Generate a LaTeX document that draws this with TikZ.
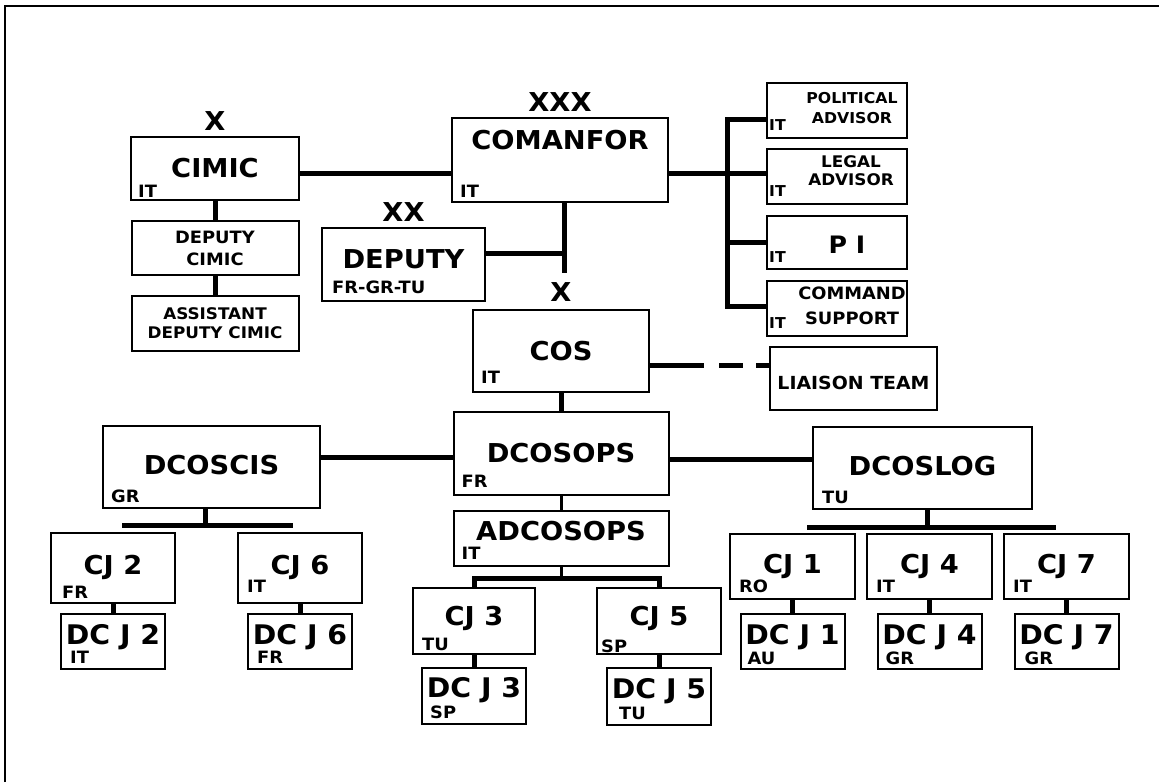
\documentclass[tikz,border=0pt]{standalone}
\usepackage{fontspec}
\setmainfont{DejaVu Sans}[FakeStretch=1.05]
\usetikzlibrary{positioning}

\begin{document}
\begin{tikzpicture}[x=1pt,y=-1pt,
	unit/.style={draw,line width=2pt,inner sep=0pt,
		font=\bfseries\fontsize{26}{30}\selectfont},
	staff/.style={unit,minimum width=140pt,minimum height=55pt},
	stafftext/.style={align=center,inner sep=0pt,
		font=\bfseries\fontsize{16}{19}\selectfont},
	cj/.style={unit,minimum width=124pt,minimum height=66pt,text depth=6pt,
		font=\bfseries\fontsize{26}{28}\selectfont},
	dcj/.style={unit,minimum width=104pt,minimum height=55pt,text depth=15pt,
		font=\bfseries\fontsize{27}{30}\selectfont},
	nation/.style={anchor=south west,inner sep=0pt,xshift=10pt,yshift=6pt,
		font=\bfseries\fontsize{17}{17}\selectfont},
	echelon/.style={inner sep=0pt,font=\bfseries\fontsize{26}{26}\selectfont},
	wire/.style={line width=5pt},
	thinwire/.style={line width=3pt},
	frame/.style={line width=2pt}]

	\useasboundingbox (0,0) rectangle (1159,782);
	\draw[frame] (5,782) -- (5,6) -- (1159,6);

	% force commander and deputy
	\node[unit,minimum width=216pt,minimum height=84pt,text depth=40pt,
		label={[nation,xshift=-1pt,yshift=-1pt]south west:IT}] (comanfor) at (560,160) {COMANFOR};
	\node[echelon] (comanfor-x) [above=5.5pt of comanfor] {XXX};
	\node[unit,minimum width=163pt,minimum height=73pt,text depth=10pt,
		label={[nation,xshift=1pt,yshift=2pt]south west:FR-GR-TU}] (deputy) at (403.5,264.5) {DEPUTY};
	\node[echelon] (deputy-x) [above=5.5pt of deputy] {XX};

	% CIMIC column
	\node[unit,minimum width=168pt,minimum height=63pt,
		label={[nation,xshift=-2pt,yshift=-3pt]south west:IT}] (cimic) at (215,168.5) {CIMIC};
	\node[echelon] (cimic-x) [above=5.5pt of cimic] {X};
	\node[unit,align=center,minimum width=167pt,minimum height=54pt,
		font=\bfseries\fontsize{17}{22}\selectfont] (depcimic) [below=19pt of cimic] {DEPUTY\\CIMIC};
	\node[unit,align=center,minimum width=167pt,minimum height=55pt,
		font=\bfseries\fontsize{16}{19}\selectfont] (asscimic) [below=19pt of depcimic] {ASSISTANT\\DEPUTY CIMIC};

	% special staff
	\node[staff,label={[nation,xshift=-7pt,yshift=2pt,font=\bfseries\fontsize{15}{15}\selectfont]south west:IT}] (politic) at (837,110.5) {};
	\node[staff,label={[nation,xshift=-7pt,yshift=2pt,font=\bfseries\fontsize{15}{15}\selectfont]south west:IT}] (legal) [below=9pt of politic] {};
	\node[staff,minimum height=53pt,label={[nation,xshift=-7pt,yshift=1pt,font=\bfseries\fontsize{15}{15}\selectfont]south west:IT}] (pinfo) [below=10pt of legal] {};
	\node[staff,label={[nation,xshift=-7pt,yshift=2pt,font=\bfseries\fontsize{15}{15}\selectfont]south west:IT}] (cmdsup) [below=10pt of pinfo] {};
	\node[stafftext,font=\bfseries\fontsize{15}{20}\selectfont] (politic-t) at ([xshift=15pt,yshift=2.5pt]politic.center) {POLITICAL\\ADVISOR};
	\node[stafftext,font=\bfseries\fontsize{16}{18}\selectfont] (legal-t) at ([xshift=14pt,yshift=6pt]legal.center) {LEGAL\\ADVISOR};
	\node[stafftext,font=\bfseries\fontsize{24}{26}\selectfont] (pinfo-t) at ([xshift=10pt,yshift=-2.5pt]pinfo.center) {P I};
	\node[stafftext,font=\bfseries\fontsize{17}{25}\selectfont] (cmdsup-t) at ([xshift=15pt,yshift=3pt]cmdsup.center) {COMMAND\\SUPPORT};

	% chief of staff
	\node[unit,minimum width=176pt,minimum height=82pt,
		label={[nation,xshift=-1pt,yshift=3pt]south west:IT}] (cos) at (561,351) {COS};
	\node[echelon] (cos-x) [above=7.5pt of cos] {X};
	\node[unit,minimum width=167pt,minimum height=63pt,text height=22pt,
		font=\bfseries\fontsize{18}{20}\selectfont] (liaison) at (853.5,378.5) {LIAISON TEAM};

	% deputy chiefs of staff
	\node[unit,minimum width=215pt,minimum height=83pt,
		label={[nation,xshift=-1pt,yshift=2pt]south west:FR}] (dcosops) [below=18pt of cos] {DCOSOPS};
	\node[unit,minimum width=217pt,minimum height=82pt,text depth=4pt,
		label={[nation,xshift=-1pt]south west:GR}] (dcoscis) at (211.5,467) {DCOSCIS};
	\node[unit,minimum width=219pt,minimum height=82pt,text depth=4pt,
		label={[nation]south west:TU}] (dcoslog) at (922.5,468) {DCOSLOG};
	\node[unit,minimum width=215pt,minimum height=55pt,text depth=15pt,
		label={[nation,xshift=-1pt,yshift=1pt]south west:IT}] (adcosops) [below=14pt of dcosops] {ADCOSOPS};

	% CJ branches under DCOSCIS
	\node[cj,minimum height=70pt,label={[nation,xshift=2pt,yshift=-1pt]south west:FR}] (cj2) at (113,568) {CJ 2};
	\node[cj,minimum height=70pt,label={[nation,yshift=5pt]south west:IT}] (cj6) at (300,568) {CJ 6};
	\node[dcj,label={[nation,yshift=0pt]south west:IT}] (dcj2) [below=9pt of cj2] {DC J 2};
	\node[dcj,label={[nation,yshift=0pt]south west:FR}] (dcj6) [below=9pt of cj6] {DC J 6};

	% CJ branches under ADCOSOPS
	\node[cj,minimum width=122pt,text depth=10pt,label={[nation,yshift=-2pt]south west:TU}] (cj3) at (474,621) {CJ 3};
	\node[cj,text depth=10pt,label={[nation,xshift=-5pt,yshift=-4pt]south west:SP}] (cj5) at (659,621) {CJ 5};
	\node[dcj,minimum height=56pt,text depth=17pt,label={[nation,xshift=-1pt,yshift=0pt]south west:SP}] (dcj3) [below=12pt of cj3] {DC J 3};
	\node[dcj,minimum height=57pt,text depth=17pt,label={[nation,xshift=3pt,yshift=0pt]south west:TU}] (dcj5) [below=12pt of cj5] {DC J 5};

	% CJ branches under DCOSLOG
	\node[cj,minimum width=125pt,minimum height=65pt,label={[nation,yshift=1pt]south west:RO}] (cj1) at (792.5,566.5) {CJ 1};
	\node[cj,minimum width=125pt,minimum height=65pt,label={[nation,yshift=1pt]south west:IT}] (cj4) [right=10pt of cj1] {CJ 4};
	\node[cj,minimum width=125pt,minimum height=65pt,label={[nation,yshift=1pt]south west:IT}] (cj7) [right=10pt of cj4] {CJ 7};
	\node[dcj,label={[nation,xshift=-2pt,yshift=-1pt]south west:AU}] (dcj1) [below=13pt of cj1] {DC J 1};
	\node[dcj,label={[nation,xshift=-1pt,yshift=-1pt]south west:GR}] (dcj4) [below=13pt of cj4] {DC J 4};
	\node[dcj,label={[nation,xshift=1pt,yshift=-1pt]south west:GR}] (dcj7) [below=13pt of cj7] {DC J 7};

	% bus points
	\coordinate (brk) at (727,173);
	\coordinate (cmdown) at (564,273);
	\coordinate (cisbar) at (205,525);
	\coordinate (cisbar-w) at (122,525);
	\coordinate (cisbar-e) at (293,525);
	\coordinate (opsbar) at (564,578);
	\coordinate (logbar) at (927,527);
	\coordinate (logbar-w) at (807,527);
	\coordinate (logbar-e) at (1056,527);

	% command links
	\draw[wire] ([yshift=-4.5pt]cimic.east) -- ([yshift=-4.5pt]cimic.east -| comanfor.west);
	\draw[wire] (cimic.south) -- (depcimic.north);
	\draw[wire] (depcimic.south) -- (asscimic.north);
	\draw[wire] (comanfor.east |- brk) -- (brk);
	\draw[wire] ([yshift=-8.5pt]politic.west) -| (brk) |- ([yshift=2.5pt]cmdsup.west);
	\draw[wire] (brk) -- (brk -| legal.west);
	\draw[wire] (brk |- pinfo.west) -- (pinfo.west);
	\draw[wire] (comanfor.south -| cmdown) -- (cmdown);
	\draw[wire] ([yshift=11.5pt]deputy.east) -- ([yshift=11.5pt]deputy.east -| cmdown);

	% staff links
	\draw[wire,dash pattern=on 54pt off 15pt on 24pt off 13pt on 20pt off 0pt] ([yshift=-14pt]cos.east) -- ([yshift=-14pt]cos.east -| liaison.west);
	\draw[wire] (cos.south) -- (dcosops.north);
	\draw[wire] ([yshift=10pt]dcoscis.east) -- ([yshift=10pt]dcoscis.east -| dcosops.west);
	\draw[wire] ([yshift=-5.5pt]dcosops.east) -- ([yshift=-5.5pt]dcosops.east -| dcoslog.west);
	\draw[thinwire] (dcosops.south) -- (adcosops.north);

	% branch buses
	\draw[wire] (dcoscis.south -| cisbar) -- (cisbar);
	\draw[wire] (cisbar-w) -- (cisbar-e);
	\draw[wire] (dcoslog.south -| logbar) -- (logbar);
	\draw[wire] (logbar-w) -- (logbar-e);
	\draw[thinwire] (adcosops.south) -- (adcosops.south |- opsbar);
	\draw[wire] (cj3.north) |- (opsbar) -| (cj5.north);

	% CJ to DC J
	\foreach \c in {cj1,cj2,cj3,cj4,cj5,cj6,cj7}
		\draw[wire] (\c.south) -- (d\c.north);

\end{tikzpicture}
\end{document}
